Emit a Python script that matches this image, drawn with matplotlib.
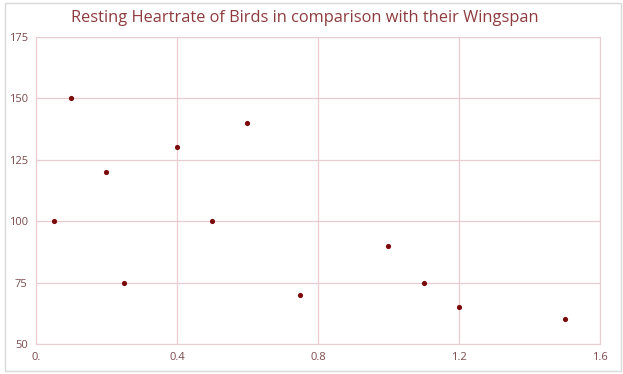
import matplotlib.pyplot as plt
from matplotlib.patches import Rectangle

# Flügelspannweite (m) und Ruhepuls
wingspan = [0.05, 0.1, 0.2, 0.25, 0.4, 0.5, 0.6, 0.75, 1.0, 1.1, 1.2, 1.5]
heartrate = [100, 150, 120, 75, 130, 100, 140, 70, 90, 75, 65, 60]
x_ticks = [0, 0.4, 0.8, 1.2, 1.6]
x_labels = ['0.', '0.4', '0.8', '1.2', '1.6']
y_ticks = [50, 75, 100, 125, 150, 175]

plt.rcParams['font.family'] = ['Open Sans', 'DejaVu Sans']

fig = plt.figure(figsize=(6.23, 3.74), dpi=100)
ax = fig.add_axes([0.0578, 0.0802, 0.905, 0.821])

grid_col = '#EBCDD1'
text_col = '#7A4A4A'

ax.scatter(wingspan, heartrate, s=14, color='#7B0A0A', zorder=3, linewidths=0)

ax.set_xlim(0, 1.6)
ax.set_ylim(50, 175)
ax.set_xticks(x_ticks)
ax.set_xticklabels(x_labels)
ax.set_yticks(y_ticks)
ax.grid(True, color=grid_col, linewidth=0.9)
for s in ax.spines.values():
    s.set_color(grid_col)
ax.tick_params(length=0, labelsize=8, colors=text_col, pad=6)

fig.text(0.49, 0.952, 'Resting Heartrate of Birds in comparison with their Wingspan',
         ha='center', va='center', fontsize=11.8, color='#8E3B3F')

fig.patches.append(Rectangle((0.008, 0.008), 0.988, 0.985, transform=fig.transFigure,
                             fill=False, edgecolor='#D9D9D9', linewidth=1))

fig.savefig('out.png', dpi=100)
